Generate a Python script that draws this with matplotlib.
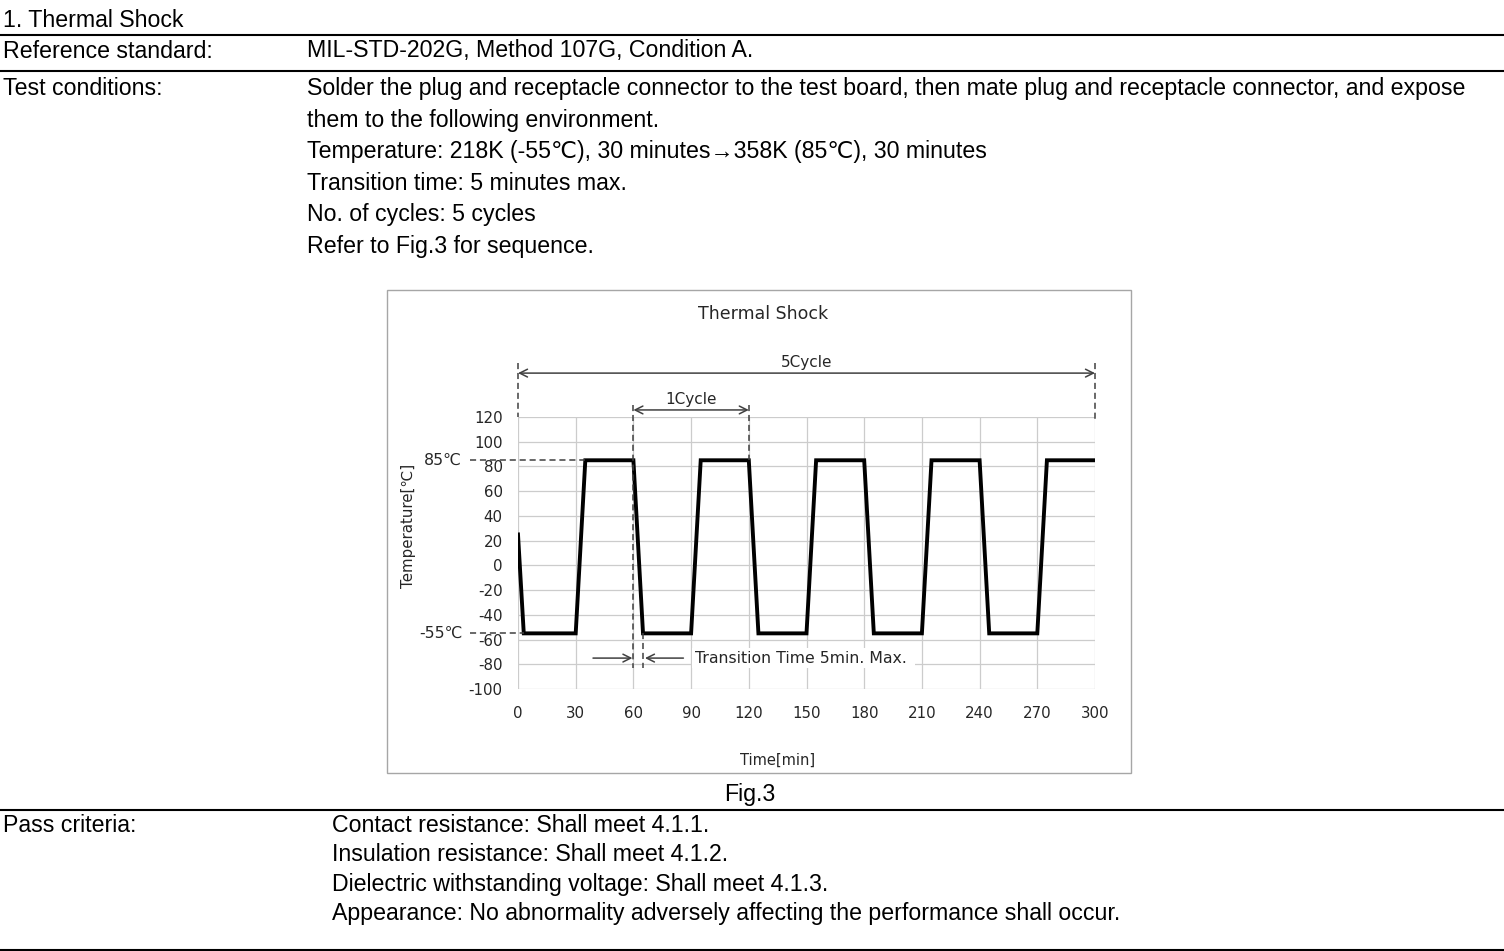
import matplotlib.pyplot as plt
from matplotlib.patches import Rectangle

plt.rcParams['axes.unicode_minus'] = False

# waveform of the thermal shock sequence
times = [0, 3, 30, 35, 60, 65, 90, 95, 120, 125, 150, 155, 180, 185, 210, 215, 240, 245, 270, 275, 300]
temps = [25, -55, -55, 85, 85, -55, -55, 85, 85, -55, -55, 85, 85, -55, -55, 85, 85, -55, -55, 85, 85]
x_ticks = list(range(0, 301, 30))
y_ticks = list(range(-100, 121, 20))
t_high, t_low = 85, -55

doc_font = ['Liberation Sans', 'DejaVu Sans']
jp_font = ['DejaVu Sans', 'Noto Sans CJK JP']
fs = 16.7
ink = '#262626'

test_lines = [
    "Solder the plug and receptacle connector to the test board, then mate plug and receptacle connector, and expose",
    "them to the following environment.",
    "Temperature: 218K (-55\u2103), 30 minutes\u2192358K (85\u2103), 30 minutes",
    "Transition time: 5 minutes max.",
    "No. of cycles: 5 cycles",
    "Refer to Fig.3 for sequence.",
]
pass_lines = [
    "Contact resistance: Shall meet 4.1.1.",
    "Insulation resistance: Shall meet 4.1.2.",
    "Dielectric withstanding voltage: Shall meet 4.1.3.",
    "Appearance: No abnormality adversely affecting the performance shall occur.",
]

W, H = 1504, 951
fig = plt.figure(figsize=(W / 100, H / 100), dpi=100)

# page layer in pixel coordinates
doc = fig.add_axes([0, 0, 1, 1])
doc.set_xlim(0, W)
doc.set_ylim(H, 0)
doc.axis('off')

def dtext(x, y, s, **kw):
    doc.text(x, y, s, family=doc_font, fontsize=fs, va='baseline', **kw)

dtext(3, 27, "1. Thermal Shock")
doc.plot([0, W], [35, 35], color='black', lw=1.5)
dtext(3, 57.5, "Reference standard:")
dtext(307, 57.5, "MIL-STD-202G, Method 107G, Condition A.")
doc.plot([0, W], [70.5, 70.5], color='black', lw=1.5)
dtext(3, 95, "Test conditions:")
for i, s in enumerate(test_lines):
    dtext(307, 95 + 31.6 * i, s)

doc.add_patch(Rectangle((387, 290), 744, 483, fill=False, edgecolor='#a6a6a6', lw=1))
doc.text(750, 801.5, "Fig.3", family=doc_font, fontsize=fs, va='baseline', ha='center')
doc.plot([0, W], [810, 810], color='black', lw=1.5)
dtext(3, 832, "Pass criteria:")
for i, s in enumerate(pass_lines):
    dtext(332, 832 + 29.3 * i, s)
doc.plot([0, W], [949.5, 949.5], color='black', lw=1.5)

doc.text(763, 314, "Thermal Shock", family=jp_font, fontsize=12.5, ha='center', va='center', color=ink)

# chart
ax = fig.add_axes([518 / W, 1 - 689 / H, 577 / W, 272 / H])
ax.plot(times, temps, color='black', lw=2.8, solid_joinstyle='miter', zorder=3)
ax.set_xlim(0, 300)
ax.set_ylim(-100, 120)
ax.set_xticks(x_ticks)
ax.set_yticks(y_ticks)
ax.grid(True, color='#cccccc', lw=0.9)
for sp in ax.spines.values():
    sp.set_visible(False)
ax.tick_params(length=0, labelsize=10.8, labelcolor=ink)
ax.tick_params(axis='y', pad=11)
ax.tick_params(axis='x', pad=12)
for lab in ax.get_xticklabels() + ax.get_yticklabels():
    lab.set_family(jp_font)
ax.set_xlabel("Time[min]", family=jp_font, fontsize=10.5, color=ink)
ax.xaxis.set_label_coords(0.449, -0.235)
ax.set_ylabel("Temperature[\u2103]", family=jp_font, fontsize=10.8, color=ink)
ax.yaxis.set_label_coords(-0.176, 0.6)

gray = '#404040'
dash = dict(color=gray, lw=1.1, ls=(0, (4, 2.5)), clip_on=False, zorder=4)
arrow = dict(arrowstyle='<->', color=gray, lw=1.1, mutation_scale=14, shrinkA=0, shrinkB=0)

# 5 cycle dimension
ax.plot([0, 0], [164, 120], **dash)
ax.plot([300, 300], [164, 118], **dash)
ax.annotate('', xy=(0, 155.5), xytext=(300, 155.5), arrowprops=arrow, annotation_clip=False)
ax.text(150, 158, "5Cycle", family=jp_font, fontsize=11, ha='center', va='bottom', color=ink)

# 1 cycle dimension
ax.plot([60, 60], [130, -83], **dash)
ax.plot([120, 120], [130, t_high], **dash)
ax.annotate('', xy=(60, 125.7), xytext=(120, 125.7), arrowprops=arrow, annotation_clip=False)
ax.text(90, 128, "1Cycle", family=jp_font, fontsize=11, ha='center', va='bottom', color=ink)

# temperature markers
ax.plot([-25, 35], [t_high, t_high], **dash)
ax.plot([-25, 3], [t_low, t_low], **dash)
ax.text(-29, t_high, "85\u2103", family=jp_font, fontsize=11.3, ha='right', va='center', color=ink)
ax.text(-29, t_low, "-55\u2103", family=jp_font, fontsize=11.3, ha='right', va='center', color=ink)

# transition time
ax.plot([65, 65], [t_low, -83], **dash)
one = dict(arrowstyle='->', color=gray, lw=1.1, mutation_scale=14, shrinkA=0, shrinkB=0)
ax.annotate('', xy=(59.5, -75), xytext=(39, -75), arrowprops=one)
ax.annotate('', xy=(66, -75), xytext=(86, -75), arrowprops=one)
ax.text(92, -75, "Transition Time 5min. Max. ", family=jp_font, fontsize=11.3, ha='left', va='center',
        color=ink, bbox=dict(facecolor='white', edgecolor='none', pad=2), zorder=5)

fig.savefig('out.png', dpi=100)
